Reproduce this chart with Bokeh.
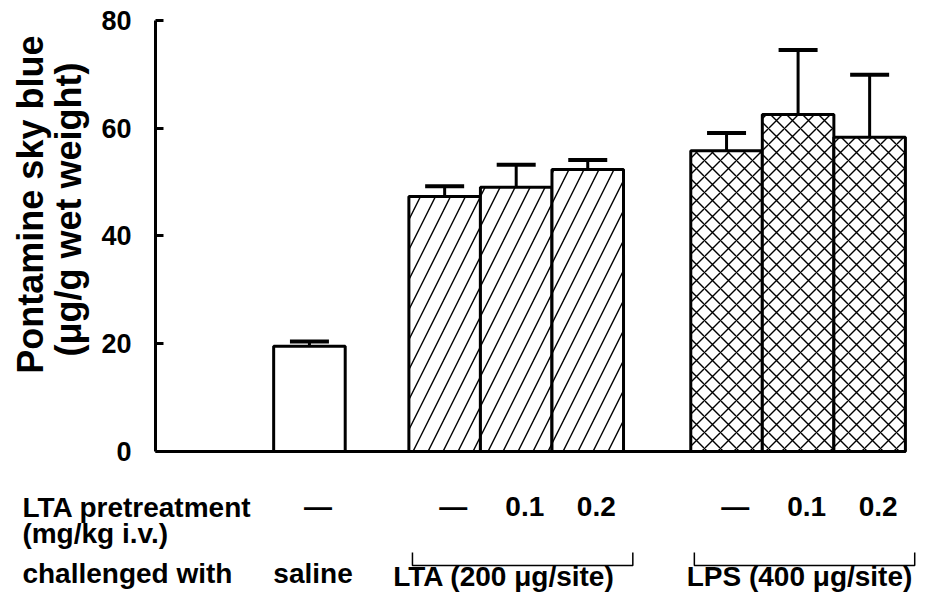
import math
from bokeh.plotting import figure
from bokeh.models import Range1d, FixedTicker, Whisker, TeeHead, ColumnDataSource
from bokeh.embed import file_html
from bokeh.resources import INLINE
from bokeh.core.properties import value

# ---------------- data ----------------
challenge_groups = ["saline", "LTA (200 μg/site)", "LPS (400 μg/site)"]
bar_group = [0, 1, 1, 1, 2, 2, 2]
pretreatment = ["—", "—", "0.1", "0.2", "—", "0.1", "0.2"]
means = [19.5, 47.3, 49.0, 52.3, 55.8, 62.5, 58.3]
sems = [0.9, 1.9, 4.2, 1.8, 3.3, 12.0, 11.6]
y_ticks = [0, 20, 40, 60, 80]
y_title = ["Pontamine sky blue", "(μg/g wet weight)"]
row_titles = ["LTA pretreatment", "(mg/kg i.v.)", "challenged with"]

# ---------------- layout / style ----------------
W, H = 916, 593
group_hatch = [" ", "/", "x"]
group_hatch_scale = [16, 30, 16]
group_start = [2.15, 4.04, 7.98]        # slot position of first bar in each group
idx_in_group = [0, 0, 1, 2, 0, 1, 2]
xs = [group_start[g] + i for g, i in zip(bar_group, idx_in_group)]
tops = [m + s for m, s in zip(means, sems)]
hatches = [group_hatch[g] for g in bar_group]
hscales = [group_hatch_scale[g] for g in bar_group]

DY = 1.85    # baseline compensation (value units) for svg text
DX = 0.155   # same, for rotated text (slot units)
row_y = [-12.24 + DY, -17.07 + DY, -24.49 + DY]
group_label_y = [row_y[2], -25.0 + DY, -25.0 + DY]

FONT = value("Liberation Sans")

p = figure(width=W, height=H, output_backend="svg", toolbar_location=None,
           x_range=Range1d(-2.168, 10.635), y_range=Range1d(-26.35, 83.67),
           min_border=0)
p.outline_line_color = None
p.grid.visible = False
p.background_fill_color = "white"
p.border_fill_color = "white"

# y axis at x = 0
p.yaxis.fixed_location = 0
p.yaxis.bounds = (0, 80)
p.yaxis.ticker = FixedTicker(ticks=y_ticks)
p.yaxis.minor_tick_line_color = None
p.yaxis.major_tick_in = 8
p.yaxis.major_tick_out = 0
p.yaxis.major_tick_line_width = 3
p.yaxis.axis_line_width = 3
p.yaxis.major_label_standoff = 24
p.yaxis.major_label_text_font = "Liberation Sans"
p.yaxis.major_label_text_font_style = "bold"
p.yaxis.major_label_text_font_size = "27px"
p.yaxis.major_label_text_color = "black"

# x axis (baseline) at y = 0
p.xaxis.fixed_location = 0
p.xaxis.bounds = (0, xs[-1] + 0.5)
p.xaxis.ticker = FixedTicker(ticks=[])
p.xaxis.minor_tick_line_color = None
p.xaxis.major_tick_line_color = None
p.xaxis.major_label_text_font_size = "0px"
p.xaxis.axis_line_width = 3

src = ColumnDataSource(dict(x=xs, top=means, hatch=hatches, hscale=hscales,
                            upper=tops, lower=means))
p.vbar(x="x", top="top", bottom=0, width=1.0, source=src,
       fill_color="white", line_color="black", line_width=3,
       hatch_pattern="hatch", hatch_color="black", hatch_weight=1.4,
       hatch_scale="hscale")

w = Whisker(base="x", upper="upper", lower="lower", source=src, dimension="height",
            line_width=3, line_color="black",
            upper_head=TeeHead(size=39, line_width=4, line_color="black"),
            lower_head=None)
p.add_layout(w)

# y title (rotated, two lines)
p.text(x=[-1.60 - DX, -1.062 - DX], y=[45.8, 44.9], text=y_title, angle=math.pi / 2,
       text_font=FONT, text_font_style="bold", text_font_size="36px",
       text_align="center", text_baseline="alphabetic", text_color="black")

# row titles
p.text(x=[-1.862] * 3, y=row_y, text=row_titles,
       text_font=FONT, text_font_style="bold", text_font_size="28px",
       text_align="left", text_baseline="alphabetic", text_color="black")

# pretreatment labels under bars
p.text(x=[x + 0.12 for x in xs], y=[-12.0 + DY] * len(xs), text=pretreatment,
       text_font=FONT, text_font_style="bold", text_font_size="28px",
       text_align="center", text_baseline="alphabetic", text_color="black")

# brackets under groups 1 and 2
br_x, br_y = [], []
for g in (1, 2):
    gx = [x for x, b in zip(xs, bar_group) if b == g]
    l, r = min(gx) - 0.45, max(gx) + 0.63
    br_x.append([l, l, r, r])
    br_y.append([-18.74, -21.15, -21.15, -18.74])
p.multi_line(xs=br_x, ys=br_y, line_color="black", line_width=1.5)

# challenge labels
centers = [2.2, 4.87, 9.0]
p.text(x=centers, y=group_label_y, text=challenge_groups,
       text_font=FONT, text_font_style="bold", text_font_size="28px",
       text_align="center", text_baseline="alphabetic", text_color="black")

open("out.html", "w").write(file_html(p, INLINE))
